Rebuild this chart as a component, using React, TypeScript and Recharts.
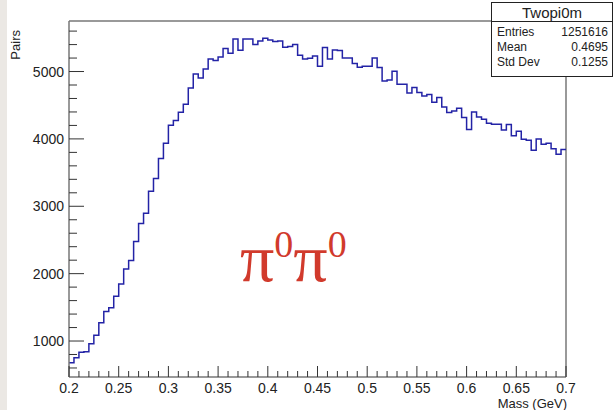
import { LineChart, Line, XAxis, YAxis, ReferenceLine } from "recharts";

// Twopi0m histogram: 100 bins, 0.2 - 0.7 GeV
const binStart = 0.2;
const binWidth = 0.005;

const pairCounts = [
  678, 752, 832, 840, 960, 1085, 1271, 1440, 1494, 1663,
  1845, 2068, 2196, 2478, 2745, 2898, 3224, 3413, 3709, 3936,
  4203, 4273, 4396, 4515, 4757, 4964, 4905, 5038, 5187, 5163,
  5217, 5341, 5271, 5483, 5316, 5483, 5483, 5400, 5454, 5493,
  5468, 5444, 5454, 5360, 5370, 5400, 5241, 5187, 5197, 5231,
  5078, 5355, 5187, 5321, 5311, 5202, 5202, 5118, 5063, 5078,
  5078, 5202, 5059, 4860, 4875, 5004, 4811, 4811, 4682, 4762,
  4688, 4638, 4658, 4544, 4614, 4475, 4391, 4415, 4455, 4318,
  4140, 4401, 4326, 4292, 4233, 4218, 4218, 4134, 4213, 4045,
  4114, 3996, 3981, 3832, 4000, 3921, 3936, 3852, 3773, 3843,
];

const xTickLabels = ["0.2", "0.25", "0.3", "0.35", "0.4", "0.45", "0.5", "0.55", "0.6", "0.65", "0.7"];
const yTickLabels = ["1000", "2000", "3000", "4000", "5000"];

const statsRows = [
  { label: "Entries", value: "1251616" },
  { label: "Mean", value: "0.4695" },
  { label: "Std Dev", value: "0.1255" },
];

const xDomain: [number, number] = [0.2, 0.7];
const yDomain: [number, number] = [466, 5750];

const data = pairCounts.map((v, i) => ({ x: +(binStart + i * binWidth).toFixed(3), v }));
data.push({ x: 0.7, v: pairCounts[pairCounts.length - 1] });

const xTicks: number[] = [];
for (let i = 0; i <= 50; i++) xTicks.push(+(0.2 + i * 0.01).toFixed(2));
const yTicks: number[] = [];
for (let v = 600; v <= 5600; v += 200) yTicks.push(v);

const FONT = "'Liberation Sans', Arial, sans-serif";
const TEXT = "#222";

function XTick(props: any) {
  const { x, y, payload } = props;
  const label = xTickLabels.find((l) => Math.abs(parseFloat(l) - payload.value) < 1e-6);
  return (
    <g>
      <line x1={x} x2={x} y1={y} y2={y - (label ? 11 : 6)} stroke="#333" strokeWidth={1} />
      {label && (
        <text x={x} y={y + 16} textAnchor="middle" fontSize={14} fontFamily={FONT} fill={TEXT}>
          {label}
        </text>
      )}
    </g>
  );
}

function YTick(props: any) {
  const { x, y, payload } = props;
  const label = yTickLabels.find((l) => +l === payload.value);
  return (
    <g>
      <line x1={x} x2={x + (label ? 15 : 8)} y1={y} y2={y} stroke="#333" strokeWidth={1} />
      {label && (
        <text x={x - 5} y={y + 5} textAnchor="end" fontSize={14} fontFamily={FONT} fill={TEXT}>
          {label}
        </text>
      )}
    </g>
  );
}

export default function App() {
  return (
    <div style={{ position: "absolute", left: 0, top: 0, width: 614, height: 410, background: "#fff" }}>
      <LineChart width={614} height={410} data={data} margin={{ top: 21, right: 48, bottom: 0, left: 0 }}>
        <XAxis
          dataKey="x"
          type="number"
          domain={xDomain}
          ticks={xTicks}
          interval={0}
          height={33}
          tickSize={0}
          tickMargin={0}
          tickLine={false}
          tick={<XTick />}
          axisLine={{ stroke: "#777", strokeWidth: 1.5 }}
          allowDataOverflow
        />
        <YAxis
          type="number"
          domain={yDomain}
          ticks={yTicks}
          interval={0}
          width={69}
          tickSize={0}
          tickMargin={0}
          tickLine={false}
          tick={<YTick />}
          axisLine={{ stroke: "#777", strokeWidth: 1.5 }}
          allowDataOverflow
        />
        <ReferenceLine y={5750} stroke="#777" strokeWidth={1.5} />
        <ReferenceLine x={0.7} stroke="#777" strokeWidth={1.5} />
        <Line
          type="stepAfter"
          dataKey="v"
          stroke="#2323a6"
          strokeWidth={1.5}
          dot={false}
          isAnimationActive={false}
        />
      </LineChart>

      <svg width={614} height={410} style={{ position: "absolute", left: 0, top: 0, pointerEvents: "none" }}>
        <rect x={0} y={0} width={7} height={410} fill="#ebe8e4" />
        <text transform="rotate(-90)" x={-30} y={20} textAnchor="end" fontSize={13} fontFamily={FONT} fill={TEXT}>
          Pairs
        </text>
        <text x={567} y={408} textAnchor="end" fontSize={13} fontFamily={FONT} fill={TEXT}>
          Mass (GeV)
        </text>

        <rect x={491.5} y={2.5} width={121} height={74} fill="#fff" stroke="#222" strokeWidth={1} />
        <line x1={491.5} x2={612.5} y1={21.5} y2={21.5} stroke="#222" strokeWidth={1} />
        <text x={552} y={18} textAnchor="middle" fontSize={15} fontFamily={FONT} fill={TEXT}>
          Twopi0m
        </text>
        {statsRows.map((r, i) => (
          <g key={r.label}>
            <text x={497} y={36 + i * 15} fontSize={12} fontFamily={FONT} fill={TEXT}>
              {r.label}
            </text>
            <text x={608} y={36 + i * 15} textAnchor="end" fontSize={12} fontFamily={FONT} fill={TEXT}>
              {r.value}
            </text>
          </g>
        ))}

        <text x={240} y={281} fontSize={68} fontFamily="'Liberation Serif', serif" fill="#d13a2c">
          π<tspan fontSize={38} dy={-24}>0</tspan>
          <tspan fontSize={68} dy={24}>π</tspan>
          <tspan fontSize={38} dy={-24}>0</tspan>
        </text>
      </svg>
    </div>
  );
}
